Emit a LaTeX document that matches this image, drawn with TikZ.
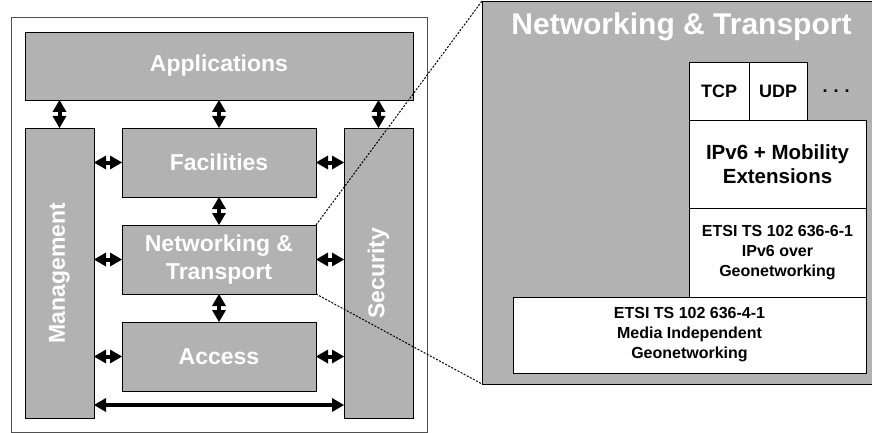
\documentclass[tikz,border=0pt]{standalone}
\usepackage{fontspec}
\setmainfont{Liberation Sans}
\usetikzlibrary{positioning, arrows.meta}
\definecolor{layergray}{RGB}{178,178,178}
\definecolor{framegray}{RGB}{80,80,80}

\tikzset{
  layer/.style={draw=black, line width=0.8pt, fill=layergray, text=white, align=center,
                inner sep=0pt, outer sep=0pt, font=\bfseries\fontsize{23}{28}\selectfont},
  detail/.style={draw=black, line width=0.8pt, fill=white, align=center,
                 inner sep=0pt, outer sep=0pt, font=\bfseries\fontsize{16}{20}\selectfont},
  biarrow/.style={line width=4pt,
                  {Triangle[length=12pt,width=14pt,line width=0pt]}-{Triangle[length=12pt,width=14pt,line width=0pt]}},
  zoomline/.style={line width=1pt, dash pattern=on 2pt off 1.5pt}
}

\begin{document}
\begin{tikzpicture}[x=1pt, y=-1pt]
  \useasboundingbox (0,0) rectangle (872,433);

  % ITS station stack
  \draw[framegray, line width=0.8pt] (11,17) rectangle (427,432);
  \node[layer, minimum width=388pt, minimum height=68pt] (app) at (219,66) {Applications};
  \node[layer, minimum width=69pt, minimum height=290pt, below right=28pt and 0pt of app.south west] (mgmt) {\rotatebox{90}{Management}};
  \node[layer, minimum width=69pt, minimum height=290pt, below left=28pt and 0pt of app.south east] (sec) {\rotatebox{90}{Security}};
  \node[layer, minimum width=194pt, minimum height=69pt, below=28pt of app] (fac) {Facilities};
  \node[layer, minimum width=194pt, minimum height=69pt, below=28pt of fac] (net) {Networking \&\\Transport};
  \node[layer, minimum width=194pt, minimum height=69pt, below=28pt of net] (acc) {Access};

  % interfaces between layers
  \draw[biarrow] (app.south -| mgmt.north) -- (mgmt.north);
  \draw[biarrow] (app) -- (fac);
  \draw[biarrow] (app.south -| sec.north) -- (sec.north);
  \draw[biarrow] (fac) -- (net);
  \draw[biarrow] (net) -- (acc);
  \foreach \n in {fac, net, acc} {
    \draw[biarrow] (mgmt.east |- \n) -- (\n.west);
    \draw[biarrow] (\n.east) -- (sec.west |- \n);
  }
  \coordinate (base) at (219,405);
  \draw[biarrow] (mgmt.east |- base) -- (sec.west |- base);

  % detail of the networking & transport layer
  \node[draw=black, line width=0.8pt, fill=layergray, inner sep=0pt, outer sep=0pt,
        minimum width=392pt, minimum height=383pt, anchor=north west] (panel) at (482,1) {};
  \node[text=white, font=\bfseries\fontsize{30}{34}\selectfont] (title) at (681.5,27) {Networking \& Transport};
  \node[detail, minimum width=60pt, minimum height=58pt, anchor=north west, font=\bfseries\fontsize{18}{21}\selectfont] (tcp) at (689,62) {TCP};
  \node[detail, minimum width=58pt, minimum height=58pt, right=0pt of tcp, font=\bfseries\fontsize{18}{21}\selectfont] (udp) {UDP};
  \node[font=\bfseries\fontsize{18}{21}\selectfont] (more) at (836,91) {.\hspace{6pt}.\hspace{6pt}.};
  \node[detail, minimum width=177pt, minimum height=88pt, below right=0pt and 0pt of tcp.south west, font=\bfseries\fontsize{20.5}{24}\selectfont] (ipv6) {IPv6 + Mobility\\Extensions};
  \node[detail, minimum width=177pt, minimum height=89pt, below=0pt of ipv6] (gn6) {ETSI TS 102 636-6-1\\IPv6 over\\Geonetworking};
  \node[detail, minimum width=353pt, minimum height=76pt, below left=0pt and 0pt of gn6.south east] (gn4) {ETSI TS 102 636-4-1\\Media Independent\\Geonetworking};

  % zoom lines
  \draw[zoomline] (net.north east) -- (panel.north west);
  \draw[zoomline] (net.south east) -- (panel.south west);
\end{tikzpicture}
\end{document}
